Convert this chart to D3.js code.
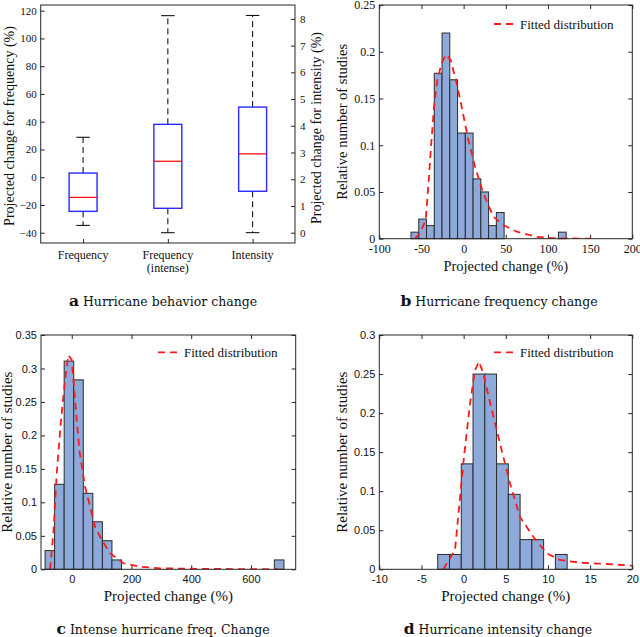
<!DOCTYPE html>
<html>
<head>
<meta charset="utf-8">
<script src="https://cdn.jsdelivr.net/npm/d3@7"></script>
<style>
  body { margin: 0; background: #fff; }
  svg { display: block; }
  .serif { font-family: "Liberation Serif", "DejaVu Serif", serif; }
  .sans { font-family: "Liberation Sans", Arial, sans-serif; }
</style>
</head>
<body>
<svg id="chart" width="640" height="637"></svg>
<script>
// ---- panel a: box plot ----
var boxLabels = [["Frequency"], ["Frequency", "(intense)"], ["Intensity"]];
var boxAxis = ["left", "left", "right"];
var whiskerLow = [-34.7, -40, 0];
var quart1 = [-24.6, -22.4, 1.55];
var medians = [-14.5, 11.5, 2.95];
var quart3 = [3.0, 38.1, 4.7];
var whiskerHigh = [28.8, 116.4, 8.13];
var freqTicks = [-40, -20, 0, 20, 40, 60, 80, 100, 120];
var intensTicks = [0, 1, 2, 3, 4, 5, 6, 7, 8];

// ---- panel b: hurricane frequency ----
var freqBinStart = -62.4, freqBinWidth = 9.2;
var freqBars = [0.007, 0.021, 0.014, 0.177, 0.22, 0.17, 0.113, 0.113, 0.064, 0.05,
                0.014, 0.028, 0, 0, 0, 0, 0, 0, 0, 0.007];
var freqFitX = [-57.7, -51.7, -45.0, -41.9, -38.7, -35.1, -31.2, -26.0, -20.9, -15.3, -8.2,
                -2.3, 5.5, 13.5, 23.3, 35.2, 47.0, 62.9, 86.6, 106, 150];
var freqFitY = [0, 0.006, 0.02, 0.056, 0.098, 0.141, 0.17, 0.188, 0.197, 0.191, 0.166,
                0.141, 0.106, 0.077, 0.0486, 0.0235, 0.0147, 0.0075, 0.002, 0.0005, 0];

// ---- panel c: intense hurricane frequency ----
var intenseBinStart = -89.4, intenseBinWidth = 32.0;
var intenseBars = [0.028, 0.127, 0.311, 0.283, 0.1135, 0.071, 0.0427, 0.014,
                   0, 0, 0, 0, 0, 0, 0, 0, 0, 0, 0, 0, 0, 0, 0, 0, 0.014];
var intenseFitX = [-72.7, -61.6, -50.3, -36.9, -22.4, -11.4, 0, 11.1, 25.5, 44.6, 61.3, 78,
                   100.5, 128.3, 172.9, 228.8, 295.8, 400, 550, 690];
var intenseFitY = [0, 0.054, 0.143, 0.218, 0.283, 0.320, 0.313, 0.253, 0.178, 0.123, 0.0935,
                   0.0636, 0.0438, 0.024, 0.009, 0.004, 0.0015, 0.0008, 0.0003, 0.0001];

// ---- panel d: hurricane intensity ----
var intBinStart = -3.07, intBinWidth = 1.395;
var intBars = [0.019, 0.019, 0.135, 0.25, 0.25, 0.135, 0.096, 0.038, 0.038, 0, 0.019];
var intFitX = [-2.41, -1.02, -0.04, 0.76, 1.35, 1.82, 2.33, 3.25, 4.31, 5.5, 6.68, 8.26,
               9.85, 11.4, 13.8, 16.96, 20];
var intFitY = [0, 0.0247, 0.136, 0.2125, 0.255, 0.266, 0.251, 0.208, 0.161, 0.110, 0.067,
               0.0417, 0.0205, 0.012, 0.0085, 0.0068, 0.0046];

var svg = d3.select("#chart");
var axisColor = "#262626";
var barFill = "#8eaadb";
var fitColor = "#ff1a1a";

function styleAxis(g, fontClass, size) {
    g.select(".domain").remove();
    g.selectAll(".tick line").attr("stroke", axisColor);
    g.selectAll("text").attr("class", fontClass).attr("font-size", size).attr("fill", "#111");
}

function frame(g, x0, x1, y0, y1) {
    g.append("rect")
        .attr("x", x0).attr("y", y0)
        .attr("width", x1 - x0).attr("height", y1 - y0)
        .attr("fill", "none").attr("stroke", axisColor).attr("stroke-width", 1);
}

function caption(letter, text, cx, y) {
    var t = svg.append("text")
        .attr("x", cx).attr("y", y)
        .attr("text-anchor", "middle")
        .attr("font-family", "'DejaVu Serif', serif")
        .attr("font-size", 12.5)
        .attr("fill", "#111");
    t.append("tspan").attr("font-weight", "bold").attr("font-size", 15.5).text(letter);
    t.append("tspan").text(" " + text);
}

function yLabel(text, cx, cy, size) {
    svg.append("text")
        .attr("class", "serif")
        .attr("transform", "translate(" + cx + "," + cy + ") rotate(-90)")
        .attr("text-anchor", "middle")
        .attr("dominant-baseline", "central")
        .attr("font-size", size)
        .attr("fill", "#111")
        .text(text);
}

// ---------------- panel a ----------------
function drawBoxPanel() {
    var left = 40.7, right = 295, top = 5, bottom = 243;
    var x = d3.scaleLinear().domain([0.5, 3.5]).range([left, right]);
    var yL = d3.scaleLinear().domain([-47.4, 124.1]).range([bottom, top]);
    var yR = d3.scaleLinear().domain([-0.386, 8.52]).range([bottom, top]);
    var g = svg.append("g");

    var gl = g.append("g").attr("transform", "translate(" + left + ",0)")
        .call(d3.axisLeft(yL).tickValues(freqTicks).tickSize(-4).tickPadding(4));
    styleAxis(gl, "serif", 11);
    var gr = g.append("g").attr("transform", "translate(" + right + ",0)")
        .call(d3.axisRight(yR).tickValues(intensTicks).tickSize(-4).tickPadding(5));
    styleAxis(gr, "serif", 11);
    var gb = g.append("g").attr("transform", "translate(0," + bottom + ")")
        .call(d3.axisBottom(x).tickValues([1, 2, 3]).tickSize(-4).tickFormat(""));
    styleAxis(gb, "serif", 11);

    boxLabels.forEach(function(lines, i) {
        var t = g.append("text").attr("class", "serif")
            .attr("x", x(i + 1)).attr("y", bottom + 16)
            .attr("text-anchor", "middle").attr("font-size", 12).attr("fill", "#111");
        lines.forEach(function(l, j) {
            t.append("tspan").attr("x", x(i + 1)).attr("dy", j === 0 ? 0 : 13).text(l);
        });
    });

    var half = 0.165, cap = 0.08;
    for (var i = 0; i < boxLabels.length; i++) {
        var y = boxAxis[i] === "left" ? yL : yR;
        var cx = x(i + 1);
        var capW = x(1 + cap) - x(1), bw = x(1 + half) - x(1);
        // whiskers
        g.append("line").attr("x1", cx).attr("x2", cx)
            .attr("y1", y(quart3[i])).attr("y2", y(whiskerHigh[i]))
            .attr("stroke", "#000").attr("stroke-dasharray", "6,4");
        g.append("line").attr("x1", cx).attr("x2", cx)
            .attr("y1", y(quart1[i])).attr("y2", y(whiskerLow[i]))
            .attr("stroke", "#000").attr("stroke-dasharray", "6,4");
        [whiskerHigh[i], whiskerLow[i]].forEach(function(v) {
            g.append("line").attr("x1", cx - capW).attr("x2", cx + capW)
                .attr("y1", y(v)).attr("y2", y(v)).attr("stroke", "#000");
        });
        g.append("rect").attr("x", cx - bw).attr("width", 2 * bw)
            .attr("y", y(quart3[i])).attr("height", y(quart1[i]) - y(quart3[i]))
            .attr("fill", "none").attr("stroke", "#2a2aff").attr("stroke-width", 1.4);
        g.append("line").attr("x1", cx - bw).attr("x2", cx + bw)
            .attr("y1", y(medians[i])).attr("y2", y(medians[i]))
            .attr("stroke", "#ff0000").attr("stroke-width", 1.2);
    }
    frame(g, left, right, top, bottom);

    yLabel("Projected change for frequency (%)", 9, (top + bottom) / 2 + 2, 14);
    yLabel("Projected change for intensity (%)", 316, (top + bottom) / 2 + 4, 14);
    caption("a", "Hurricane behavior change", 163, 306);
}

// ---------------- histogram panels ----------------
function drawHistPanel(opt) {
    var x = d3.scaleLinear().domain(opt.xDomain).range([opt.left, opt.right]);
    var y = d3.scaleLinear().domain(opt.yDomain).range([opt.bottom, opt.top]);
    var g = svg.append("g");
    var id = "clip" + opt.letter;
    g.append("clipPath").attr("id", id).append("rect")
        .attr("x", opt.left).attr("y", opt.top)
        .attr("width", opt.right - opt.left).attr("height", opt.bottom - opt.top);

    var fmt = function(d) { return String(+d.toFixed(2)); };
    var gl = g.append("g").attr("transform", "translate(" + opt.left + ",0)")
        .call(d3.axisLeft(y).tickValues(opt.yTicks).tickSize(-4).tickPadding(4).tickFormat(fmt));
    styleAxis(gl, opt.tickFont, opt.tickSize);
    var gb = g.append("g").attr("transform", "translate(0," + opt.bottom + ")")
        .call(d3.axisBottom(x).tickValues(opt.xTicks).tickSize(-4).tickPadding(6).tickFormat(fmt));
    styleAxis(gb, opt.tickFont, opt.tickSize);
    var gr = g.append("g").attr("transform", "translate(" + opt.right + ",0)")
        .call(d3.axisRight(y).tickValues(opt.yTicks).tickSize(-4).tickFormat(""));
    styleAxis(gr, opt.tickFont, opt.tickSize);
    var gt = g.append("g").attr("transform", "translate(0," + opt.top + ")")
        .call(d3.axisTop(x).tickValues(opt.xTicks).tickSize(-4).tickFormat(""));
    styleAxis(gt, opt.tickFont, opt.tickSize);

    g.append("g").selectAll("rect")
        .data(opt.bars.map(function(v, i) { return { i: i, v: v }; })
            .filter(function(d) { return d.v > 0; }))
        .enter().append("rect")
        .attr("x", function(d) { return x(opt.binStart + d.i * opt.binWidth); })
        .attr("width", function(d) { return x(opt.binStart + (d.i + 1) * opt.binWidth) - x(opt.binStart + d.i * opt.binWidth); })
        .attr("y", function(d) { return y(d.v); })
        .attr("height", function(d) { return opt.bottom - y(d.v); })
        .attr("fill", barFill)
        .attr("stroke", "#2b2b2b")
        .attr("stroke-width", 1);

    var line = d3.line()
        .x(function(d) { return x(d[0]); })
        .y(function(d) { return y(d[1]); });
    g.append("path")
        .datum(d3.zip(opt.fitX, opt.fitY))
        .attr("clip-path", "url(#" + id + ")")
        .attr("d", line)
        .attr("fill", "none")
        .attr("stroke", fitColor)
        .attr("stroke-width", 1.8)
        .attr("stroke-dasharray", "7,5");

    frame(g, opt.left, opt.right, opt.top, opt.bottom);

    // legend
    g.append("line")
        .attr("x1", opt.legendX).attr("x2", opt.legendX + 20)
        .attr("y1", opt.legendY).attr("y2", opt.legendY)
        .attr("stroke", fitColor).attr("stroke-width", 1.8).attr("stroke-dasharray", "7,5");
    g.append("text").attr("class", "serif")
        .attr("x", opt.legendX + 26).attr("y", opt.legendY)
        .attr("dominant-baseline", "central")
        .attr("font-size", 13).attr("fill", "#111")
        .text("Fitted distribution");

    g.append("text").attr("class", "serif")
        .attr("x", (opt.left + opt.right) / 2).attr("y", opt.xLabelY)
        .attr("text-anchor", "middle").attr("font-size", opt.labelSize).attr("fill", "#111")
        .text("Projected change (%)");
    yLabel("Relative number of studies", opt.yLabelX, (opt.top + opt.bottom) / 2, opt.labelSize);
    caption(opt.letter, opt.caption, opt.captionX, opt.captionY);
}

drawBoxPanel();

drawHistPanel({
    letter: "b", caption: "Hurricane frequency change", captionX: 499, captionY: 306,
    left: 379.3, right: 632.3, top: 5, bottom: 238.7,
    xDomain: [-100, 200], yDomain: [0, 0.25],
    xTicks: [-100, -50, 0, 50, 100, 150, 200], yTicks: [0, 0.05, 0.1, 0.15, 0.2, 0.25],
    tickFont: "serif", tickSize: 12,
    bars: freqBars, binStart: freqBinStart, binWidth: freqBinWidth,
    fitX: freqFitX, fitY: freqFitY,
    legendX: 494, legendY: 24,
    xLabelY: 271, yLabelX: 342, labelSize: 14.5
});

drawHistPanel({
    letter: "c", caption: "Intense hurricane freq. Change", captionX: 163, captionY: 634,
    left: 41, right: 295.7, top: 335, bottom: 569.3,
    xDomain: [-103, 750], yDomain: [0, 0.35],
    xTicks: [0, 200, 400, 600], yTicks: [0, 0.05, 0.1, 0.15, 0.2, 0.25, 0.3, 0.35],
    tickFont: "sans", tickSize: 11,
    bars: intenseBars, binStart: intenseBinStart, binWidth: intenseBinWidth,
    fitX: intenseFitX, fitY: intenseFitY,
    legendX: 158, legendY: 352.3,
    xLabelY: 601, yLabelX: 7, labelSize: 15
});

drawHistPanel({
    letter: "d", caption: "Hurricane intensity change", captionX: 498, captionY: 634,
    left: 379.3, right: 632.3, top: 335, bottom: 569.3,
    xDomain: [-10, 20], yDomain: [0, 0.3],
    xTicks: [-10, -5, 0, 5, 10, 15, 20], yTicks: [0, 0.05, 0.1, 0.15, 0.2, 0.25, 0.3],
    tickFont: "sans", tickSize: 11,
    bars: intBars, binStart: intBinStart, binWidth: intBinWidth,
    fitX: intFitX, fitY: intFitY,
    legendX: 494, legendY: 352.3,
    xLabelY: 601, yLabelX: 342, labelSize: 15
});
</script>
</body>
</html>
